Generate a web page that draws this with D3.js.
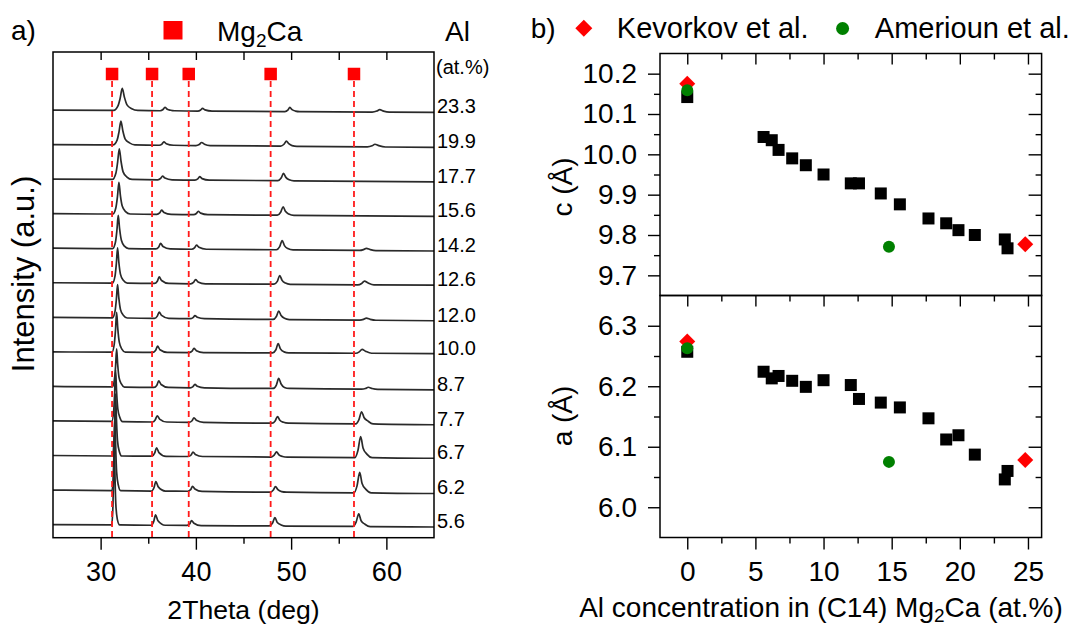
<!DOCTYPE html>
<html>
<head>
<meta charset="utf-8">
<script src="https://cdn.jsdelivr.net/npm/d3@7"></script>
<style>
  body { margin: 0; background: #fff; }
  text { font-family: "Liberation Sans", Arial, sans-serif; fill: #000; }
</style>
</head>
<body>
<svg id="chart" width="1082" height="628"></svg>
<script>
// ---------------- a) XRD patterns (2theta, intensity above each scan's baseline) ----------------
const alLabels = ["5.6", "6.2", "6.7", "7.7", "8.7", "10.0", "12.0", "12.6", "14.2", "15.6", "17.7", "19.9", "23.3"];
const mg2caPeaks = [31.2, 35.4, 39.25, 47.85, 56.6];

const scan_5_6 = [[25,0],[31.16,-0.01],[31.29,0.51],[31.36,1.41],[31.43,2.59],[31.5,1.52],[31.59,0.62],[31.75,0.16],[32.0,-0.01],
  [35.3,-0.02],[35.57,0.085],[35.77,0.28],[36.02,0.11],[36.77,-0.02],
  [39.05,-0.025],[39.35,0.02],[39.55,0.115],[39.8,0.04],[40.55,-0.03],
  [47.7,-0.04],[48.05,0.045],[48.3,0.2],[48.55,0.06],[48.95,-0.01],[49.45,-0.045],
  [56.5,-0.055],[56.82,0.07],[57.1,0.31],[57.35,0.11],[57.75,0.01],[58.3,-0.06],[65,-0.07]];
const scan_6_2 = [[25,0],[31.19,-0.015],[31.34,0.42],[31.42,1.16],[31.5,2.185],[31.58,1.27],[31.68,0.52],[31.86,0.14],[32.1,-0.02],
  [35.33,-0.03],[35.6,0.065],[35.8,0.245],[36.05,0.09],[36.8,-0.03],
  [39.15,-0.035],[39.45,0.01],[39.65,0.105],[39.9,0.03],[40.65,-0.04],
  [47.8,-0.06],[48.11,-0.005],[48.36,0.1],[48.61,0.01],[49.0,-0.045],[49.5,-0.06],
  [56.6,-0.08],[56.92,0.12],[57.2,0.51],[57.45,0.19],[57.85,0.02],[58.4,-0.08],[65,-0.1]];
const scan_6_7 = [[25,0],[31.21,-0.015],[31.39,0.34],[31.48,0.97],[31.57,1.785],[31.66,1.06],[31.77,0.43],[31.97,0.11],[32.22,-0.015],
  [35.4,-0.02],[35.67,0.065],[35.87,0.22],[36.12,0.085],[36.87,-0.025],
  [39.2,-0.03],[39.5,0.015],[39.7,0.1],[39.95,0.03],[40.7,-0.03],
  [47.9,-0.045],[48.22,0.01],[48.47,0.105],[48.72,0.02],[49.1,-0.03],[49.6,-0.05],
  [56.7,-0.06],[57.02,0.15],[57.3,0.55],[57.55,0.22],[57.95,0.04],[58.5,-0.06],[65,-0.08]];
const scan_7_7 = [[25,0],[31.17,-0.015],[31.37,0.28],[31.47,0.8],[31.57,1.48],[31.67,0.88],[31.8,0.36],[32.02,0.1],[32.3,-0.02],
  [35.45,-0.03],[35.74,0.035],[35.94,0.15],[36.19,0.055],[36.94,-0.03],
  [39.3,-0.04],[39.6,0.005],[39.8,0.09],[40.05,0.02],[40.8,-0.04],
  [48.0,-0.065],[48.32,0.0],[48.57,0.125],[48.82,0.02],[49.2,-0.04],[49.7,-0.065],
  [56.8,-0.085],[57.12,0.04],[57.4,0.265],[57.65,0.1],[58.05,0.0],[58.6,-0.085],[65,-0.11]];
const scan_8_7 = [[25,0],[31.23,-0.015],[31.45,0.2],[31.57,0.58],[31.68,1.085],[31.79,0.64],[31.93,0.26],[32.18,0.07],[32.5,-0.02],
  [35.6,-0.03],[35.9,0.035],[36.1,0.16],[36.35,0.055],[37.1,-0.03],
  [39.4,-0.04],[39.7,-0.005],[39.9,0.06],[40.15,0.005],[40.9,-0.04],
  [48.1,-0.06],[48.45,0.04],[48.7,0.23],[48.95,0.07],[49.3,-0.03],[49.8,-0.06],
  [57.4,-0.08],[57.8,-0.06],[58.1,-0.025],[58.5,-0.06],[59.1,-0.085],[65,-0.1]];
const scan_10_0 = [[25,0],[31.19,-0.01],[31.43,0.22],[31.56,0.62],[31.68,1.14],[31.8,0.68],[31.96,0.28],[32.23,0.08],[32.6,-0.01],
  [35.5,-0.015],[35.78,0.045],[35.98,0.165],[36.23,0.06],[36.98,-0.015],
  [39.3,-0.02],[39.6,0.02],[39.8,0.1],[40.05,0.035],[40.8,-0.02],
  [48.05,-0.03],[48.4,0.06],[48.64,0.24],[48.88,0.085],[49.25,0.0],[49.75,-0.03],
  [56.8,-0.04],[57.15,0.0],[57.45,0.07],[57.8,0.02],[58.45,-0.04],[65,-0.05]];
const scan_12_0 = [[25,0],[31.24,-0.015],[31.51,0.17],[31.65,0.51],[31.78,0.945],[31.91,0.56],[32.08,0.23],[32.38,0.06],[32.8,-0.02],
  [35.65,-0.03],[35.95,0.035],[36.15,0.15],[36.4,0.055],[37.15,-0.03],
  [39.4,-0.04],[39.7,-0.01],[39.9,0.05],[40.15,0.0],[40.9,-0.04],
  [48.1,-0.06],[48.45,0.025],[48.7,0.18],[48.95,0.05],[49.3,-0.03],[49.8,-0.065],
  [57.2,-0.08],[57.6,-0.06],[57.9,-0.025],[58.3,-0.06],[58.9,-0.085],[65,-0.1]];
const scan_12_6 = [[25,0],[31.24,-0.01],[31.51,0.19],[31.65,0.55],[31.78,1.01],[31.91,0.6],[32.08,0.25],[32.38,0.07],[32.8,-0.01],
  [35.65,-0.02],[35.95,0.045],[36.15,0.17],[36.4,0.065],[37.15,-0.02],
  [39.45,-0.03],[39.75,0.01],[39.97,0.09],[40.22,0.025],[41.0,-0.03],
  [48.2,-0.04],[48.55,0.04],[48.8,0.21],[49.05,0.07],[49.4,-0.01],[49.9,-0.045],
  [57.0,-0.06],[57.4,-0.02],[57.7,0.05],[58.05,0.0],[58.7,-0.06],[65,-0.07]];
const scan_14_2 = [[25,0],[31.26,-0.01],[31.56,0.18],[31.71,0.52],[31.85,0.95],[31.99,0.57],[32.18,0.23],[32.5,0.06],[32.95,-0.01],
  [35.8,-0.02],[36.1,0.035],[36.3,0.14],[36.55,0.05],[37.3,-0.02],
  [39.55,-0.03],[39.85,0.01],[40.07,0.09],[40.32,0.025],[41.1,-0.03],
  [48.45,-0.045],[48.8,0.045],[49.06,0.22],[49.3,0.075],[49.65,-0.01],[50.2,-0.05],
  [57.2,-0.065],[57.6,-0.04],[57.9,-0.005],[58.3,-0.04],[58.9,-0.07],[65,-0.08]];
const scan_15_6 = [[25,0],[31.29,-0.01],[31.6,0.17],[31.77,0.5],[31.92,0.91],[32.07,0.54],[32.27,0.22],[32.62,0.06],[33.1,-0.01],
  [35.9,-0.02],[36.2,0.02],[36.4,0.1],[36.65,0.035],[37.4,-0.02],
  [39.75,-0.03],[40.05,0.005],[40.25,0.07],[40.5,0.015],[41.25,-0.03],
  [48.55,-0.045],[48.9,0.04],[49.16,0.2],[49.4,0.07],[49.75,-0.01],[50.3,-0.05],[65,-0.08]];
const scan_17_7 = [[25,0],[31.24,-0.01],[31.6,0.17],[31.78,0.48],[31.96,0.88],[32.14,0.52],[32.36,0.21],[32.76,0.06],[33.3,-0.01],
  [36.0,-0.02],[36.3,0.02],[36.5,0.09],[36.75,0.03],[37.5,-0.02],
  [39.9,-0.03],[40.2,0.005],[40.4,0.07],[40.65,0.015],[41.4,-0.03],
  [48.6,-0.045],[48.95,0.03],[49.2,0.165],[49.45,0.05],[49.8,-0.02],[50.3,-0.05],[65,-0.08]];
const scan_19_9 = [[25,0],[31.3,-0.01],[31.73,0.13],[31.93,0.37],[32.13,0.68],[32.33,0.4],[32.58,0.16],[33.03,0.05],[33.6,-0.01],
  [36.14,-0.02],[36.44,0.015],[36.64,0.08],[36.89,0.025],[37.64,-0.02],
  [40.0,-0.03],[40.35,0.0],[40.6,0.06],[40.9,0.01],[41.5,-0.03],
  [48.9,-0.045],[49.25,0.01],[49.5,0.1],[49.75,0.025],[50.1,-0.03],[50.6,-0.05],
  [58.0,-0.065],[58.5,-0.035],[58.8,0.01],[59.2,-0.03],[59.9,-0.07],[65,-0.08]];
const scan_23_3 = [[25,0],[31.37,-0.01],[31.82,0.12],[32.05,0.34],[32.27,0.63],[32.49,0.38],[32.77,0.15],[33.27,0.04],[33.9,-0.01],
  [36.25,-0.02],[36.55,0.015],[36.75,0.08],[37.0,0.025],[37.35,-0.005],[37.75,-0.02],
  [40.2,-0.03],[40.5,0.0],[40.7,0.05],[40.95,0.005],[41.7,-0.03],
  [49.35,-0.045],[49.65,-0.005],[49.87,0.075],[50.1,0.01],[50.45,-0.03],[50.9,-0.045],
  [58.5,-0.06],[59.0,-0.03],[59.3,0.01],[59.7,-0.03],[60.3,-0.06],[65,-0.07]];
const xrdScans = [scan_5_6, scan_6_2, scan_6_7, scan_7_7, scan_8_7, scan_10_0, scan_12_0,
  scan_12_6, scan_14_2, scan_15_6, scan_17_7, scan_19_9, scan_23_3];

// ---------------- b) lattice parameters vs Al content ----------------
const alConc = [0, 5.6, 6.2, 6.7, 7.7, 8.7, 10.0, 12.0, 12.6, 14.2, 15.6, 17.7, 19.0, 19.9, 21.1, 23.3, 23.5];
const cParam = [10.142, 10.043, 10.035, 10.011, 9.99, 9.973, 9.95, 9.928, 9.928, 9.903, 9.876, 9.841, 9.829, 9.812, 9.80, 9.789, 9.767];
const aParam = [6.257, 6.224, 6.213, 6.217, 6.209, 6.199, 6.210, 6.202, 6.179, 6.173, 6.165, 6.147, 6.112, 6.119, 6.087, 6.046, 6.060];

const kevorkovAl = [0, 24.8];
const kevorkovC = [10.175, 9.777];
const kevorkovA = [6.274, 6.078];
const ameriounAl = [0, 14.8];
const ameriounC = [10.159, 9.771];
const ameriounA = [6.263, 6.075];

const svg = d3.select("#chart");
const FONT = "'Liberation Sans', Arial, sans-serif";
const diamond = (s) => `M0,${-s}L${s},0L0,${s}L${-s},0Z`;

// draw an axis generator, drop its domain line (frames drawn separately)
function axisLayer(gen, transform, size) {
  const g = svg.append("g").attr("transform", transform).call(gen);
  g.select(".domain").remove();
  g.attr("font-family", FONT).attr("font-size", size || 27);
  g.selectAll("line").attr("stroke", "#000").attr("stroke-width", 1.4);
  g.selectAll("text").attr("fill", "#000");
  return g;
}

// =================================================
// Panel a)
// =================================================
const xL = d3.scaleLinear().domain([25, 65]).range([53, 434]);
const yL = d3.scaleLinear().domain([-0.38, 13.68]).range([537.7, 52]);

const lineXRD = (offset) => d3.line()
  .x((d) => xL(d[0]))
  .y((d) => yL(d[1] + offset))
  .curve(d3.curveMonotoneX);

xrdScans.forEach((scan, i) => {
  svg.append("path")
    .datum(scan)
    .attr("fill", "none")
    .attr("stroke", "#2a2a2a")
    .attr("stroke-width", 1.7)
    .attr("stroke-linejoin", "round")
    .attr("d", lineXRD(i));

  svg.append("text")
    .attr("x", 437)
    .attr("y", yL(i + scan[scan.length - 1][1]) + 1)
    .attr("font-size", 20)
    .text(alLabels[i]);
});

// reference peak positions of Mg2Ca
svg.selectAll(".refLine")
  .data(mg2caPeaks)
  .enter()
  .append("line")
  .attr("x1", (d) => xL(d)).attr("x2", (d) => xL(d))
  .attr("y1", 81).attr("y2", 537)
  .attr("stroke", "#ff1a1a")
  .attr("stroke-width", 1.8)
  .attr("stroke-dasharray", "6,4");

svg.selectAll(".refMark")
  .data(mg2caPeaks)
  .enter()
  .append("rect")
  .attr("x", (d) => xL(d) - 6.25)
  .attr("y", 74 - 6.25)
  .attr("width", 12.5).attr("height", 12.5)
  .attr("fill", "#ff0000");

// frame + ticks
svg.append("rect").attr("x", 53).attr("y", 52).attr("width", 381).attr("height", 485.7)
  .attr("fill", "none").attr("stroke", "#000").attr("stroke-width", 1.5);

axisLayer(d3.axisBottom(xL).tickValues([30, 40, 50, 60]).tickSize(12).tickPadding(12), "translate(0,537.7)");
axisLayer(d3.axisBottom(xL).tickValues([35, 45, 55]).tickSize(6).tickFormat(""), "translate(0,537.7)");
axisLayer(d3.axisTop(xL).tickValues([30, 35, 40, 45, 50, 55, 60]).tickSize(-8).tickFormat(""), "translate(0,52)");

svg.append("text").attr("x", 243.5).attr("y", 619).attr("text-anchor", "middle")
  .attr("font-size", 26.6).text("2Theta (deg)");
svg.append("text").attr("transform", "translate(34,274) rotate(-90)").attr("text-anchor", "middle")
  .attr("font-size", 31).text("Intensity (a.u.)");

// header
svg.append("text").attr("x", 11).attr("y", 40).attr("font-size", 28).text("a)");
svg.append("rect").attr("x", 163.5).attr("y", 21).attr("width", 19).attr("height", 18.5).attr("fill", "#ff0000");
const mgLabel = svg.append("text").attr("x", 217).attr("y", 40.7).attr("font-size", 28);
mgLabel.append("tspan").text("Mg");
mgLabel.append("tspan").attr("font-size", 19).attr("dy", 6).text("2");
mgLabel.append("tspan").attr("dy", -6).text("Ca");
svg.append("text").attr("x", 445).attr("y", 40.7).attr("font-size", 28).text("Al");
svg.append("text").attr("x", 436).attr("y", 74).attr("font-size", 20).text("(at.%)");

// =================================================
// Panel b)
// =================================================
const xR = d3.scaleLinear().domain([-2, 26]).range([660, 1041.6]);
const yC = d3.scaleLinear().domain([9.65, 10.25]).range([295.5, 53.5]);
const yA = d3.scaleLinear().domain([5.95, 6.35]).range([537.5, 295.5]);

const xMajor = [0, 5, 10, 15, 20, 25];
const xMinor = [2.5, 7.5, 12.5, 17.5, 22.5];

function drawPanel(yScale, yVals, kevVals, ameVals, major, minor, top, bottom) {
  // black squares: this work
  svg.append("g").selectAll("rect")
    .data(alConc)
    .enter()
    .append("rect")
    .attr("x", (d) => xR(d) - 6)
    .attr("y", (d, i) => yScale(yVals[i]) - 6)
    .attr("width", 12).attr("height", 12)
    .attr("fill", "#000");

  svg.append("g").selectAll("path")
    .data(kevorkovAl)
    .enter()
    .append("path")
    .attr("transform", (d, i) => `translate(${xR(d)},${yScale(kevVals[i])})`)
    .attr("d", diamond(8))
    .attr("fill", "#ff0000");

  svg.append("g").selectAll("circle")
    .data(ameriounAl)
    .enter()
    .append("circle")
    .attr("cx", (d) => xR(d))
    .attr("cy", (d, i) => yScale(ameVals[i]))
    .attr("r", 6)
    .attr("fill", "#008000");

  svg.append("rect").attr("x", 660).attr("y", top).attr("width", 381.6).attr("height", bottom - top)
    .attr("fill", "none").attr("stroke", "#000").attr("stroke-width", 1.5);

  axisLayer(d3.axisLeft(yScale).tickValues(major).tickSize(12).tickPadding(11).tickFormat(d3.format(".1f")),
    "translate(660,0)", 28);
  axisLayer(d3.axisLeft(yScale).tickValues(minor).tickSize(6).tickFormat(""), "translate(660,0)");
  axisLayer(d3.axisRight(yScale).tickValues(major).tickSize(-13).tickFormat(""), "translate(1041.6,0)");
  axisLayer(d3.axisRight(yScale).tickValues(minor).tickSize(-6).tickFormat(""), "translate(1041.6,0)");
  axisLayer(d3.axisTop(xR).tickValues(xMajor).tickSize(-11).tickFormat(""), `translate(0,${top})`);
  axisLayer(d3.axisTop(xR).tickValues(xMinor).tickSize(-6).tickFormat(""), `translate(0,${top})`);
}

drawPanel(yC, cParam, kevorkovC, ameriounC,
  [9.7, 9.8, 9.9, 10.0, 10.1, 10.2], [9.75, 9.85, 9.95, 10.05, 10.15], 53.5, 295.5);
drawPanel(yA, aParam, kevorkovA, ameriounA,
  [6.0, 6.1, 6.2, 6.3], [6.05, 6.15, 6.25], 295.5, 537.5);

axisLayer(d3.axisBottom(xR).tickValues(xMajor).tickSize(12).tickPadding(12), "translate(0,537.5)", 28);
axisLayer(d3.axisBottom(xR).tickValues(xMinor).tickSize(6).tickFormat(""), "translate(0,537.5)");

svg.append("text").attr("transform", "translate(572,187) rotate(-90)").attr("text-anchor", "middle")
  .attr("font-size", 28).text("c (Å)");
svg.append("text").attr("transform", "translate(572,416) rotate(-90)").attr("text-anchor", "middle")
  .attr("font-size", 28).text("a (Å)");

const xLabel = svg.append("text").attr("x", 821).attr("y", 617).attr("text-anchor", "middle").attr("font-size", 28);
xLabel.append("tspan").text("Al concentration in (C14) Mg");
xLabel.append("tspan").attr("font-size", 19).attr("dy", 4.5).text("2");
xLabel.append("tspan").attr("dy", -4.5).text("Ca (at.%)");

// legend
svg.append("text").attr("x", 530.8).attr("y", 38).attr("font-size", 28).text("b)");
svg.append("path").attr("transform", "translate(583.8,28.3)").attr("d", diamond(8.5)).attr("fill", "#ff0000");
svg.append("text").attr("x", 616.8).attr("y", 37.5).attr("font-size", 29).text("Kevorkov et al.");
svg.append("circle").attr("cx", 842.6).attr("cy", 28.5).attr("r", 6.5).attr("fill", "#008000");
svg.append("text").attr("x", 874.8).attr("y", 37.5).attr("font-size", 29).text("Amerioun et al.");
</script>
</body>
</html>
